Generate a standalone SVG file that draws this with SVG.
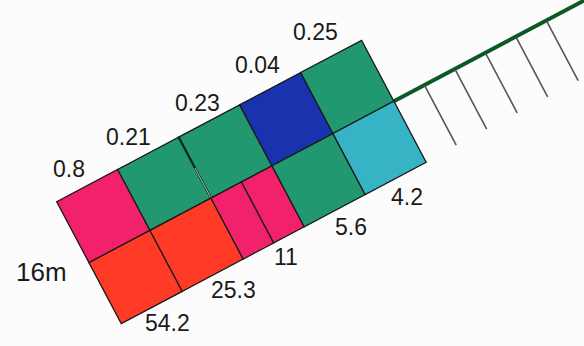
<svg xmlns="http://www.w3.org/2000/svg" width="584" height="346" viewBox="0 0 584 346">
<style>
.c{stroke:#1a1a1a;stroke-width:1.3}
.pk{fill:#f2216b}.gr{fill:#219870}.bl{fill:#1833ad}.cy{fill:#36b3c4}.rd{fill:#ff3a26}
.t{font-family:"Liberation Sans",Arial,sans-serif;font-size:23px;fill:#1a1a1a}
.tick{stroke:#555;stroke-width:1.6}
</style>
<rect width="584" height="346" fill="#fdfcfd"/>
<g id="connectors" transform="translate(56.7,201.7) rotate(-27.9)">
<line x1="345" y1="69" x2="660" y2="69" stroke="#0b5a26" stroke-width="4"/>
<line class="tick" x1="379.5" y1="70" x2="379.5" y2="137"/>
<line class="tick" x1="414" y1="70" x2="414" y2="137"/>
<line class="tick" x1="448.5" y1="70" x2="448.5" y2="137"/>
<line class="tick" x1="483" y1="70" x2="483" y2="137"/>
<line class="tick" x1="517.5" y1="70" x2="517.5" y2="137"/>
</g>
<g transform="translate(56.7,201.7) rotate(-27.9)">
<g id="cell-0-8"><rect class="c pk" x="0" y="0" width="69" height="69"/></g>
<g id="cell-0-21"><rect class="c gr" x="69" y="0" width="69" height="69"/></g>
<g id="cell-0-23"><rect class="c gr" x="138" y="0" width="69" height="69"/></g>
<g id="cell-0-04"><rect class="c bl" x="207" y="0" width="69" height="69"/></g>
<g id="cell-0-25"><rect class="c gr" x="276" y="0" width="69" height="69"/></g>
<g id="cell-54-2"><rect class="c rd" x="0" y="69" width="69" height="69"/></g>
<g id="cell-25-3"><rect class="c rd" x="69" y="69" width="69" height="69"/></g>
<g id="cell-11"><rect class="c pk" x="138" y="69" width="34.5" height="69"/><rect class="c pk" x="172.5" y="69" width="34.5" height="69"/></g>
<g id="cell-5-6"><rect class="c gr" x="207" y="69" width="69" height="69"/></g>
<g id="cell-4-2"><rect class="c cy" x="276" y="69" width="69" height="69"/></g>
<line x1="138" y1="0" x2="138" y2="69" stroke="#0d2a1c" stroke-width="2.2"/>
<line x1="138" y1="35" x2="138" y2="68" stroke="#e8f0ea" stroke-width="0.7"/>
</g>
<g id="labels">
<text class="t" x="53" y="177">0.8</text>
<text class="t" x="106" y="145">0.21</text>
<text class="t" x="175" y="111">0.23</text>
<text class="t" x="235" y="73">0.04</text>
<text class="t" x="293" y="40">0.25</text>
<text class="t" x="391" y="205">4.2</text>
<text class="t" x="335" y="235">5.6</text>
<text class="t" x="274" y="265">11</text>
<text class="t" x="211" y="298">25.3</text>
<text class="t" x="145" y="331">54.2</text>
<text class="t" x="16" y="281" style="font-size:26px">16m</text>
</g>
</svg>
